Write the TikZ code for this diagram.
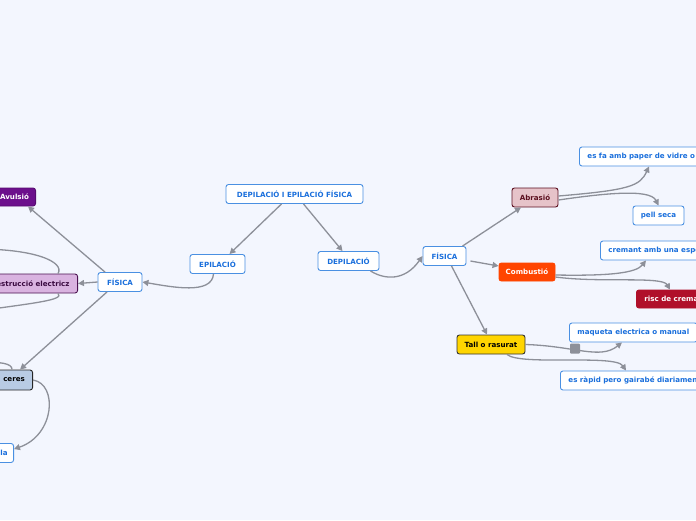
\documentclass[tikz,border=0pt]{standalone}
\usepackage{fontspec}
\setmainfont{DejaVu Sans}
\usetikzlibrary{arrows.meta,calc}
\definecolor{bg}{HTML}{F3F6FE}
\definecolor{lk}{HTML}{8D9099}
\definecolor{bblue}{HTML}{4A90E2}
\definecolor{tblue}{HTML}{1A6FDC}
\definecolor{avc}{HTML}{6C0F8C}
\tikzset{
  base/.style={rounded corners=2.5pt, line width=0.9pt, font=\fontsize{7.1}{8}\selectfont\bfseries, minimum height=19pt, inner xsep=8pt, inner ysep=0pt},
  wbox/.style={base, draw=bblue, fill=white, text=tblue},
  link/.style={draw=lk, line width=1.3pt},
  arr/.style={link, -{Triangle[length=6pt,width=6pt]}},
}
\begin{document}
\begin{tikzpicture}[x=1pt,y=-1pt]
\useasboundingbox (0,0) rectangle (696,520);
\clip (0,0) rectangle (696,520);
\fill[bg] (0,0) rectangle (696,520);

% nodes
\node[wbox, minimum width=137pt] (root) at (294.5,194) {DEPILACIÓ I EPILACIÓ FÍSICA};
\node[wbox, minimum width=55pt] (epi) at (217.5,264) {EPILACIÓ};
\node[wbox, minimum width=61pt] (depi) at (348.5,261) {DEPILACIÓ};
\node[wbox, minimum width=43pt] (fisR) at (444.5,256) {FÍSICA};
\node[wbox, minimum width=44pt] (fisL) at (120,282) {FÍSICA};

\node[base, fill=avc, draw=avc!80!black, text=white, anchor=east, minimum width=42pt, inner xsep=3pt, minimum height=18pt] (avul) at (36,197) {Avulsió};
\node[base, fill={rgb,255:red,217;green,179;blue,224}, draw={rgb,255:red,75;green,18;blue,80}, text={rgb,255:red,58;green,10;blue,64}, anchor=east] (destr) at (78,283.5) {Destrucció electricz};
\node[base, fill={rgb,255:red,184;green,203;blue,228}, draw=black!85, text=black, anchor=east, minimum width=37pt, inner xsep=3pt, minimum height=20pt] (ceres) at (33,380) {ceres};
\node[wbox, anchor=east, inner xsep=6pt] (cera) at (14,453) {amb espàtula};

\node[base, fill={rgb,255:red,230;green,195;blue,201}, draw={rgb,255:red,92;green,16;blue,32}, text={rgb,255:red,92;green,16;blue,32}, minimum width=46pt, inner xsep=3pt] (abr) at (535,197.5) {Abrasió};
\node[base, fill={rgb,255:red,255;green,69;blue,0}, draw={rgb,255:red,255;green,69;blue,0}, text=white, minimum width=56pt, inner xsep=3pt, minimum height=18pt] (comb) at (527,272) {Combustió};
\node[base, fill={rgb,255:red,255;green,213;blue,0}, draw=black!80, text=black, minimum width=68pt, inner xsep=3pt] (tall) at (491,344.5) {Tall o rasurat};

\node[wbox, anchor=west] (vidre) at (579,156.5) {es fa amb paper de vidre o pedra tosca};
\node[wbox, minimum width=51pt, inner xsep=3pt] (pell) at (658.5,215.5) {pell seca};
\node[wbox, anchor=west] (crem) at (600,250.5) {cremant amb una espelma};
\node[base, fill={rgb,255:red,176;green,16;blue,42}, draw={rgb,255:red,176;green,16;blue,42}, text=white, anchor=west, minimum height=18pt] (risc) at (636,299) {risc de cremades};
\node[wbox, anchor=west] (maq) at (569,332.5) {maqueta electrica o manual};
\node[wbox, anchor=west] (rap) at (560,380.5) {es ràpid pero gairabé diariament};
\node[fill=lk, rounded corners=1pt, minimum size=10pt, inner sep=0pt] (mk) at (575,348.5) {};

% off-screen ends
\coordinate (o1) at (-30,249);
\coordinate (o2) at (-30,312);
\coordinate (o3) at (-20,362);
\coordinate (o4) at (-15,175);

% connectors
\draw[arr] ($(root.south)+(-13,0)$) -- ($(epi.north)+(12,0)$);
\draw[arr] ($(root.south)+(9,0)$) -- ($(depi.north)+(-6,0)$);
\draw[arr] ($(depi.south)+(22,0)$) .. controls (385,280) and (405,281) .. (fisR.west);
\draw[arr] ($(epi.south)+(-4,0)$) .. controls (212,295) and (172,287) .. (fisL.east);
\draw[arr] ($(fisL.north)+(-15,0)$) -- ($(avul.south east)+(-8,0)$);
\draw[arr] (fisL.west) -- (destr.east);
\draw[arr] ($(fisL.south)+(-13,0)$) -- ($(ceres.north)+(6,0)$);
\draw[arr] (ceres.east) .. controls (58,384) and (55,435) .. ($(cera.north east)+(0,6)$);
\draw[link] ($(destr.north east)+(-20,0)$) .. controls (65,262) and (35,248) .. (o1);
\draw[link] ($(destr.south east)+(-20,0)$) .. controls (65,300) and (35,303) .. (o2);
\draw[link] ($(ceres.north)+(-2,0)$) .. controls (12,363) and (0,362) .. (o3);
\draw[link] ($(avul.north west)+(4,-1)$) -- (o4);

\draw[arr] ($(fisR.north)+(18,0)$) -- ($(abr.south)+(-14,0)$);
\draw[arr] ($(fisR.east)+(4,5)$) -- ($(comb.west)+(0,-6)$);
\draw[arr] ($(fisR.south)+(7,0)$) -- ($(tall.north)+(-4,0)$);

\draw[arr] ($(abr.east)+(0,-1.5)$) .. controls (630,190) and (640,186) .. ($(vidre.south west)+(70,0)$);
\draw[arr] ($(abr.east)+(0,2.5)$) .. controls (600,194) and (650,188) .. (pell.north);
\draw[arr] ($(comb.east)+(0,3)$) .. controls (610,276) and (636,273) .. ($(crem.south west)+(46,0)$);
\draw[arr] ($(comb.east)+(0,5)$) .. controls (600,283) and (662,276) .. ($(risc.north west)+(34,0)$);
\draw[arr] (tall.east) .. controls (575,346) and (600,360) .. ($(maq.south west)+(53,0)$);
\draw[arr] ($(tall.south)+(16,0)$) .. controls (520,366) and (615,354) .. ($(rap.north west)+(66,0)$);
\end{tikzpicture}
\end{document}
